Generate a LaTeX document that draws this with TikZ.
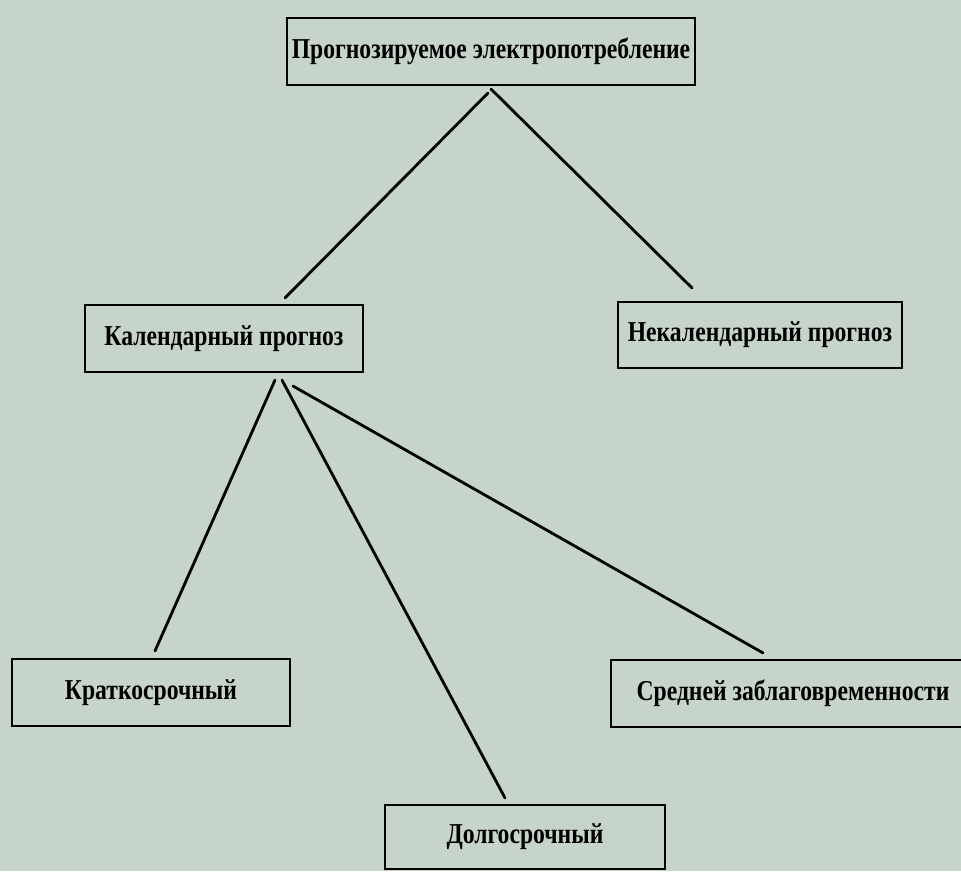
\documentclass[tikz,border=0pt]{standalone}
\usepackage{fontspec}
\setmainfont{Liberation Serif}[FakeStretch=0.82]
\usetikzlibrary{calc}

\definecolor{paper}{RGB}{198,212,202}

\begin{document}
\begin{tikzpicture}
[x = 0.025cm, y = -0.025cm, 
box/.style = {rectangle, draw = black, line width = 1.5pt, inner sep = 0pt, font = \fontsize{20.5}{24}\selectfont\bfseries}, 
boxsize/.style 2 args = {minimum width = #1*0.025cm, minimum height = #2*0.025cm}, 
link/.style = {draw, line width = 2pt, line cap = round}]

\fill[paper] (0, 0) rectangle (961, 871);
\clip (0, 0) rectangle (961, 871);

\node[box, boxsize = {408}{67}] (forecast) at (491, 51.5) {Прогнозируемое электропотребление};
\node[box, boxsize = {278}{67}] (calendar) at (224, 338.5) {Календарный прогноз};
\node[box, boxsize = {284}{66}] (non calendar) at (760, 335) {Некалендарный прогноз};
\node[box, boxsize = {278}{67}] (short term) at (151, 692.5) {Краткосрочный};
\node[box, boxsize = {364}{67}] (medium term) at (793, 693.5) {Средней заблаговременности};
\node[box, boxsize = {280}{64}] (long term) at (525, 837) {Долгосрочный};

\draw[link] ($(forecast.south) + (-3, 7)$) -- ($(calendar.north) + (61, -6)$);
\draw[link] ($(forecast.south) + (0, 3)$) -- ($(non calendar.north) + (-68, -13)$);
\draw[link] ($(calendar.south) + (51, 7)$) -- ($(short term.north) + (4, -7)$);
\draw[link] ($(calendar.south) + (58, 7)$) -- ($(long term.north) + (-20, -6)$);
\draw[link] ($(calendar.south) + (69, 13)$) -- ($(medium term.north) + (-30, -6)$);
\end{tikzpicture}
\end{document}
